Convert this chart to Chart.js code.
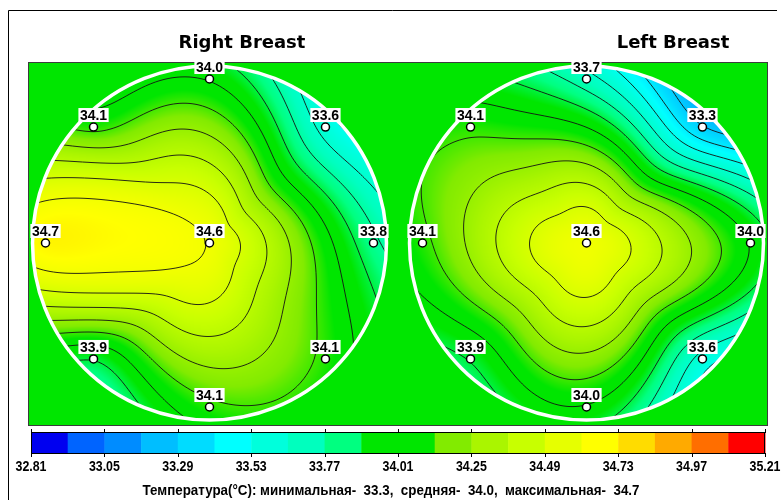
<!DOCTYPE html>
<html><head><meta charset="utf-8">
<script src="https://cdn.jsdelivr.net/npm/chart.js@4.4.0/dist/chart.umd.min.js"></script>
<style>html,body{margin:0;padding:0;background:#fff;}canvas{display:block;}</style>
</head><body>
<canvas id="c" width="782" height="500"></canvas>
<script>
// ---------------- DATA ----------------
const sensorNames = ['center','top','top-right','right','bottom-right','bottom','bottom-left','left','top-left'];
const rightBreast = [34.6, 34.0, 33.6, 33.8, 34.1, 34.1, 33.9, 34.7, 34.1];
const leftBreast  = [34.6, 33.7, 33.3, 34.0, 33.6, 34.0, 33.9, 34.1, 34.1];
const breastTitles = ['Right Breast', 'Left Breast'];
const scaleTicks = [32.81, 33.05, 33.29, 33.53, 33.77, 34.01, 34.25, 34.49, 34.73, 34.97, 35.21];
const bandColors = ['#0000f0','#0064ff','#008cff','#00beff','#00dcff','#00ffff','#00ffdc','#00ffbe','#00ff80','#00e600',
                    '#00e600','#82eb00','#aaf500','#c8ff00','#e6ff00','#ffff00','#ffdc00','#ffaa00','#ff6e00','#ff0000'];
const statNames = ['минимальная', 'средняя', 'максимальная'];
const statValues = [33.3, 34.0, 34.7];

// ---------------- LAYOUT ----------------
const CIRCLE_R = 177, RING_R = 164;
const centersX = [-188.5, 188.5];
const sensorAngles = [null, 90, 45, 0, -45, -90, -135, 180, 135];
const breasts = [rightBreast, leftBreast];
const VMIN = scaleTicks[0], VMAX = scaleTicks[scaleTicks.length - 1];
const BAND = (VMAX - VMIN) / bandColors.length;
const BG_GREEN = '#00e600';
const SQUIRCLE_P = 4;

function sensorPos(b, k) {
  if (sensorAngles[k] === null) return {x: centersX[b], y: 0};
  const a = sensorAngles[k] * Math.PI / 180;
  return {x: centersX[b] + RING_R * Math.cos(a), y: RING_R * Math.sin(a)};
}

const points = [];
breasts.forEach((vals, b) => vals.forEach((v, k) => {
  const p = sensorPos(b, k);
  points.push({x: p.x, y: p.y, v: v});
}));

// disc -> squircle coordinates (smooth stretch of the diagonals)
function toSquare(dx, dy) {
  const r = Math.hypot(dx, dy) / RING_R;
  if (r < 1e-9) return [0, 0];
  const c = dx / (r * RING_R), s = dy / (r * RING_R);
  const m = Math.pow(Math.pow(Math.abs(c), SQUIRCLE_P) + Math.pow(Math.abs(s), SQUIRCLE_P), 1 / SQUIRCLE_P);
  return [c * r / m, s * r / m];
}

// thin plate spline through the sensor readings (rendering only)
function makeSurface(b) {
  const pts = breasts[b].map((v, k) => {
    const p = sensorPos(b, k);
    const q = toSquare(p.x - centersX[b], p.y);
    return {x: q[0], y: q[1], v: v};
  });
  const n = pts.length, m = n + 3;
  const U = r => r > 1e-12 ? r * r * Math.log(r) : 0;
  const A = [], rhs = [];
  for (let i = 0; i < m; i++) { A.push(new Array(m).fill(0)); rhs.push(0); }
  for (let i = 0; i < n; i++) {
    for (let j = 0; j < n; j++) A[i][j] = U(Math.hypot(pts[i].x - pts[j].x, pts[i].y - pts[j].y));
    A[i][n] = 1; A[i][n + 1] = pts[i].x; A[i][n + 2] = pts[i].y;
    A[n][i] = 1; A[n + 1][i] = pts[i].x; A[n + 2][i] = pts[i].y;
    rhs[i] = pts[i].v;
  }
  for (let c = 0; c < m; c++) {
    let piv = c;
    for (let r = c + 1; r < m; r++) if (Math.abs(A[r][c]) > Math.abs(A[piv][c])) piv = r;
    [A[c], A[piv]] = [A[piv], A[c]]; [rhs[c], rhs[piv]] = [rhs[piv], rhs[c]];
    for (let r = 0; r < m; r++) {
      if (r === c) continue;
      const f = A[r][c] / A[c][c];
      if (!f) continue;
      for (let k = c; k < m; k++) A[r][k] -= f * A[c][k];
      rhs[r] -= f * rhs[c];
    }
  }
  const w = rhs.map((v, i) => v / A[i][i]);
  return (dx, dy) => {
    const q = toSquare(dx, dy), x = q[0], y = q[1];
    let s = w[n] + w[n + 1] * x + w[n + 2] * y;
    for (let i = 0; i < n; i++) s += w[i] * U(Math.hypot(x - pts[i].x, y - pts[i].y));
    return s;
  };
}

function hexRgb(h) { return [parseInt(h.substr(1, 2), 16), parseInt(h.substr(3, 2), 16), parseInt(h.substr(5, 2), 16)]; }
const bandRgb = bandColors.map(hexRgb);
function colorFor(v) {
  let t = (v - VMIN) / BAND - 0.5;
  t = Math.max(0, Math.min(bandRgb.length - 1, t));
  const k = Math.min(bandRgb.length - 2, Math.floor(t)), f = t - k;
  const a = bandRgb[k], c = bandRgb[k + 1];
  return [a[0] + (c[0] - a[0]) * f, a[1] + (c[1] - a[1]) * f, a[2] + (c[2] - a[2]) * f];
}

function fitText(ctx, text, x, y, size, family, targetW) {
  ctx.font = 'bold ' + size + 'px ' + family;
  const w = ctx.measureText(text).width;
  ctx.save();
  ctx.translate(x, y);
  ctx.scale(targetW / w, 1);
  ctx.textAlign = 'center';
  ctx.fillText(text, 0, 0);
  ctx.restore();
}

const fieldPlugin = {
  id: 'field',
  beforeDatasetsDraw(chart) {
    const ctx = chart.ctx, xs = chart.scales.x, ys = chart.scales.y, ca = chart.chartArea;
    ctx.save();
    ctx.fillStyle = BG_GREEN;
    ctx.fillRect(ca.left, ca.top, ca.right - ca.left, ca.bottom - ca.top);
    ctx.strokeStyle = '#3c3c3c'; ctx.lineWidth = 1;
    ctx.strokeRect(ca.left + 0.5, ca.top + 0.5, ca.right - ca.left - 1, ca.bottom - ca.top - 1);
    breasts.forEach((vals, b) => {
      const surf = makeSurface(b);
      const cx = xs.getPixelForValue(centersX[b]), cy = ys.getPixelForValue(0);
      const R = xs.getPixelForValue(centersX[b] + CIRCLE_R) - cx;
      const val = (px, py) => surf(xs.getValueForPixel(px) - centersX[b], ys.getValueForPixel(py));
      const x0 = Math.floor(cx - R - 2), y0 = Math.floor(cy - R - 2);
      const W = Math.ceil(2 * R + 4), H = Math.ceil(2 * R + 4);
      const img = ctx.getImageData(x0, y0, W, H);
      for (let j = 0; j < H; j++) for (let i = 0; i < W; i++) {
        const px = x0 + i + 0.5, py = y0 + j + 0.5;
        if ((px - cx) ** 2 + (py - cy) ** 2 > (R + 1) ** 2) continue;
        const c = colorFor(val(px, py));
        const o = (j * W + i) * 4;
        img.data[o] = c[0]; img.data[o + 1] = c[1]; img.data[o + 2] = c[2]; img.data[o + 3] = 255;
      }
      ctx.putImageData(img, x0, y0);
      // contour lines (marching squares)
      const g = 2, nx = Math.ceil(W / g) + 1, ny = Math.ceil(H / g) + 1;
      const grid = [];
      for (let j = 0; j < ny; j++) { const row = []; for (let i = 0; i < nx; i++) row.push(val(x0 + i * g, y0 + j * g)); grid.push(row); }
      ctx.save();
      ctx.beginPath(); ctx.arc(cx, cy, R - 0.5, 0, Math.PI * 2); ctx.clip();
      ctx.strokeStyle = 'rgba(20,20,20,0.9)'; ctx.lineWidth = 1;
      ctx.beginPath();
      for (let L = 1; L < bandColors.length; L++) {
        const lev = VMIN + L * BAND;
        for (let j = 0; j < ny - 1; j++) for (let i = 0; i < nx - 1; i++) {
          const a = grid[j][i], bb = grid[j][i + 1], c = grid[j + 1][i + 1], d = grid[j + 1][i];
          const X = x0 + i * g, Y = y0 + j * g;
          const e = [];
          if ((a < lev) !== (bb < lev)) e.push([X + g * (lev - a) / (bb - a), Y]);
          if ((bb < lev) !== (c < lev)) e.push([X + g, Y + g * (lev - bb) / (c - bb)]);
          if ((d < lev) !== (c < lev)) e.push([X + g * (lev - d) / (c - d), Y + g]);
          if ((a < lev) !== (d < lev)) e.push([X, Y + g * (lev - a) / (d - a)]);
          for (let q = 0; q + 1 < e.length; q += 2) { ctx.moveTo(e[q][0], e[q][1]); ctx.lineTo(e[q + 1][0], e[q + 1][1]); }
        }
      }
      ctx.stroke();
      ctx.restore();
      ctx.beginPath(); ctx.arc(cx, cy, R, 0, Math.PI * 2);
      ctx.strokeStyle = '#ffffff'; ctx.lineWidth = 3.5; ctx.stroke();
    });
    ctx.restore();
  },
  afterDatasetsDraw(chart) {
    const ctx = chart.ctx, meta = chart.getDatasetMeta(0);
    ctx.save();
    ctx.font = 'bold 14px "Liberation Sans", Arial, sans-serif';
    ctx.textAlign = 'center'; ctx.textBaseline = 'alphabetic';
    meta.data.forEach((el, i) => {
      const t = points[i].v.toFixed(1);
      const w = ctx.measureText(t).width + 3;
      ctx.fillStyle = '#fff';
      ctx.fillRect(el.x - w / 2, el.y - 19, w, 14);
      ctx.fillStyle = '#000';
      ctx.fillText(t, el.x, el.y - 7);
    });
    ctx.restore();
  },
  afterDraw(chart) {
    const ctx = chart.ctx;
    ctx.save();
    ctx.fillStyle = '#000';
    ctx.font = 'bold 18px "DejaVu Sans", sans-serif';
    ctx.textAlign = 'center';
    const titleX = [242, 673];
    breastTitles.forEach((t, b) => ctx.fillText(t, titleX[b], 48));
    const bx0 = 31, bx1 = 765, by0 = 432, by1 = 454;
    const bxv = v => bx0 + (v - VMIN) / (VMAX - VMIN) * (bx1 - bx0);
    bandColors.forEach((c, k) => {
      ctx.fillStyle = c;
      const a = bxv(VMIN + k * BAND), e = bxv(VMIN + (k + 1) * BAND);
      ctx.fillRect(a, by0, e - a + 0.5, by1 - by0);
    });
    ctx.strokeStyle = '#000'; ctx.lineWidth = 1;
    ctx.strokeRect(bx0 + 0.5, by0 + 0.5, bx1 - bx0 - 1, by1 - by0 - 1);
    ctx.beginPath();
    scaleTicks.forEach(v => {
      const x = Math.round(bxv(v)) + 0.5;
      ctx.moveTo(x, by0 - 3); ctx.lineTo(x, by0 + 1);
      ctx.moveTo(x, by1 - 1); ctx.lineTo(x, by1 + 3);
    });
    ctx.stroke();
    ctx.fillStyle = '#000';
    const fam = '"Liberation Sans", Arial, sans-serif';
    scaleTicks.forEach(v => fitText(ctx, v.toFixed(2), bxv(v), 471, 15, fam, 31));
    const line = 'Температура(°C): ' + statNames.map((n, i) => n + '-  ' + statValues[i].toFixed(1)).join(',  ');
    fitText(ctx, line, 391, 495, 15, fam, 497);
    ctx.strokeStyle = '#000'; ctx.lineWidth = 1;
    ctx.beginPath();
    ctx.moveTo(8.5, 500); ctx.lineTo(8.5, 10.5); ctx.lineTo(777, 10.5);
    ctx.stroke();
    ctx.restore();
  }
};

new Chart(document.getElementById('c'), {
  type: 'scatter',
  data: {
    datasets: [{
      data: points,
      pointRadius: 4,
      pointHoverRadius: 4,
      pointBackgroundColor: '#ffffff',
      pointBorderColor: '#000000',
      pointBorderWidth: 1.5
    }]
  },
  options: {
    responsive: false,
    devicePixelRatio: 1,
    animation: false,
    layout: {padding: {left: 28, top: 62, right: 14, bottom: 74}},
    scales: {
      x: {type: 'linear', min: -370, max: 370, display: false},
      y: {type: 'linear', min: -183, max: 181, display: false}
    },
    plugins: {legend: {display: false}, tooltip: {enabled: false}}
  },
  plugins: [fieldPlugin]
});
</script>
</body></html>
